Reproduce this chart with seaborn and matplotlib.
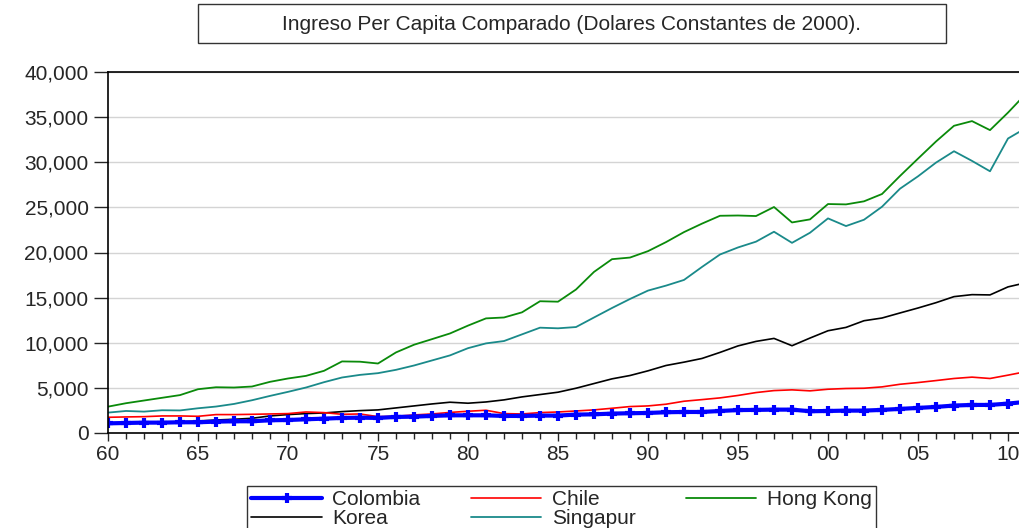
import matplotlib
matplotlib.use("Agg")
import matplotlib.pyplot as plt
import matplotlib.ticker as mticker
from matplotlib.patches import Rectangle
import seaborn as sns
import pandas as pd

years = list(range(1960, 2012))

colombia = [1070, 1110, 1150, 1150, 1190, 1190, 1260, 1300, 1300, 1410,
            1440, 1520, 1590, 1670, 1700, 1670, 1780, 1810, 1890, 1960,
            1960, 1960, 1890, 1890, 1930, 1930, 2040, 2070, 2150, 2190,
            2220, 2300, 2330, 2330, 2440, 2540, 2560, 2590, 2590, 2410,
            2440, 2480, 2480, 2560, 2670, 2780, 2890, 3040, 3110, 3110,
            3260, 3450]
chile = [1740, 1780, 1810, 1890, 1890, 1850, 2040, 2040, 2070, 2110,
         2150, 2330, 2260, 2070, 2110, 1810, 1850, 2000, 2110, 2280,
         2410, 2520, 2150, 2110, 2260, 2330, 2440, 2560, 2740, 2930,
         3000, 3190, 3520, 3700, 3890, 4160, 4480, 4700, 4780, 4670,
         4850, 4930, 4960, 5110, 5400, 5590, 5810, 6040, 6190, 6040,
         6410, 6800]
hong_kong = [2920, 3300, 3600, 3900, 4200, 4850, 5070, 5040, 5150, 5670,
             6040, 6330, 6890, 7930, 7900, 7700, 8930, 9780, 10400, 11030,
             11900, 12700, 12800, 13370, 14600, 14550, 15900, 17850, 19260, 19440,
             20150, 21150, 22260, 23200, 24070, 24100, 24040, 25040, 23330, 23670,
             25370, 25330, 25670, 26480, 28480, 30400, 32300, 34040, 34560, 33560,
             35500, 37600]
korea = [1070, 1150, 1150, 1190, 1220, 1330, 1440, 1520, 1630, 1890,
         2040, 2150, 2220, 2370, 2480, 2560, 2780, 3000, 3220, 3410,
         3300, 3440, 3670, 4000, 4260, 4520, 4960, 5480, 6000, 6370,
         6890, 7480, 7850, 8260, 8930, 9650, 10150, 10480, 9670, 10520,
         11330, 11700, 12440, 12740, 13300, 13850, 14440, 15110, 15330, 15300,
         16190, 16650]
singapur = [2260, 2440, 2370, 2520, 2500, 2740, 2930, 3220, 3630, 4110,
            4560, 5040, 5630, 6150, 6440, 6630, 7000, 7480, 8040, 8600,
            9400, 9930, 10190, 10930, 11670, 11600, 11740, 12800, 13850, 14850,
            15780, 16330, 16960, 18400, 19780, 20560, 21200, 22300, 21070, 22190,
            23780, 22930, 23630, 25070, 27070, 28440, 29960, 31220, 30150, 29000,
            32630, 33800]

title = "Ingreso Per Capita Comparado (Dolares Constantes de 2000)."

df = pd.DataFrame({"year": years, "Colombia": colombia, "Chile": chile,
                   "Hong Kong": hong_kong, "Korea": korea, "Singapur": singapur})

sns.set_style("white")
plt.rcParams["font.family"] = ["Liberation Sans", "DejaVu Sans"]
FS = 15

fig = plt.figure(figsize=(10.2, 5.28), dpi=100)
ax = fig.add_axes([108 / 1020, 1 - 433 / 528, 1 - 108 / 1020, (433 - 72) / 528])

# thin lines first, Colombia on top
sns.lineplot(data=df, x="year", y="Korea", ax=ax, color="black", lw=1.2, label="Korea")
sns.lineplot(data=df, x="year", y="Chile", ax=ax, color="#ff0000", lw=1.2, label="Chile")
sns.lineplot(data=df, x="year", y="Singapur", ax=ax, color="#1a8a8a", lw=1.3, label="Singapur")
sns.lineplot(data=df, x="year", y="Hong Kong", ax=ax, color="#0a8a0a", lw=1.3, label="Hong Kong")
sns.lineplot(data=df, x="year", y="Colombia", ax=ax, color="#0000ff", lw=3,
             marker="+", markersize=7, markeredgewidth=3,
             markeredgecolor="#0000ff", label="Colombia")

ax.set_xlim(1960, 1960 + (1020 - 108) / 18)
ax.set_ylim(0, 40000)
ax.set_xlabel("")
ax.set_ylabel("")

ax.yaxis.set_major_locator(mticker.MultipleLocator(5000))
ax.yaxis.set_major_formatter(mticker.FuncFormatter(lambda v, p: f"{int(v):,}"))
ax.xaxis.set_major_locator(mticker.MultipleLocator(5))
ax.xaxis.set_minor_locator(mticker.MultipleLocator(1))
ax.xaxis.set_major_formatter(mticker.FuncFormatter(lambda v, p: f"{int(v) % 100:02d}"))
ax.tick_params(axis="y", which="major", direction="out", length=10, width=1, labelsize=FS, pad=4, left=True)
ax.tick_params(axis="x", which="major", direction="out", length=6, width=1, labelsize=FS, pad=3, bottom=True)
ax.tick_params(axis="x", which="minor", direction="out", length=4, width=1, bottom=True)

ax.grid(axis="y", color="#d4d4d4", lw=1)
ax.set_axisbelow(True)
for s in ["left", "bottom", "top"]:
    ax.spines[s].set_color("black")
    ax.spines[s].set_linewidth(1.2)
ax.spines["right"].set_visible(False)

# legend in row order: Colombia, Chile, Hong Kong / Korea, Singapur
h, l = ax.get_legend_handles_labels()
lookup = dict(zip(l, h))
order = ["Colombia", "Korea", "Chile", "Singapur", "Hong Kong"]
ax.legend([lookup[k] for k in order], order, ncol=3, fontsize=FS,
          loc="upper left", bbox_to_anchor=(247 / 1020, 1 - 486 / 528),
          bbox_transform=fig.transFigure, borderaxespad=0, frameon=True,
          fancybox=False, edgecolor="#333333", framealpha=1,
          handlelength=3.4, handletextpad=0.5, columnspacing=2.4,
          labelspacing=0.0, borderpad=0.2)
ax.get_legend().get_frame().set_linewidth(1)

# title box
fig.patches.append(Rectangle((198 / 1020, 1 - 43 / 528), (946 - 198) / 1020, 39 / 528,
                             transform=fig.transFigure, fill=False, edgecolor="#333333", lw=1))
fig.text(572 / 1020, 1 - 24 / 528, title, ha="center", va="center", fontsize=FS)

fig.savefig("out.png", dpi=100)
